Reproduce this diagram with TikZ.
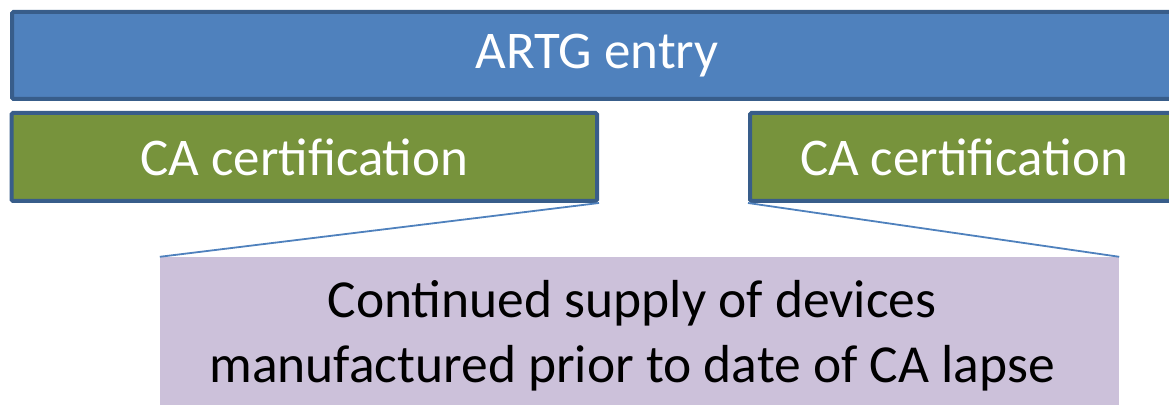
\documentclass[tikz,border=0pt]{standalone}
\usepackage{fontspec}
\setmainfont{Carlito}
\definecolor{barblue}{HTML}{4F81BD}
\definecolor{edgeblue}{HTML}{385D8A}
\definecolor{cagreen}{HTML}{77933C}
\definecolor{lapsepurple}{HTML}{CCC1DA}
\tikzset{
  x=1pt, y=1pt,
  boxstyle/.style={draw=edgeblue, line width=4pt, rounded corners=1.5pt, inner sep=0pt, text=white,
    font=\fontsize{53}{63}\selectfont},
  linkline/.style={draw=barblue, line width=1.8pt},
}
\begin{document}
\begin{tikzpicture}
\useasboundingbox (0,0) rectangle (1169,404);
\node[boxstyle, fill=barblue, minimum width=1170pt, minimum height=87pt] (artg) at (597,348.5) {\raisebox{-3pt}{ARTG entry}};
\node[boxstyle, fill=cagreen, minimum width=585.5pt, minimum height=88pt] (caleft) at (304.25,247) {\raisebox{-3pt}{CA certification}};
\node[boxstyle, fill=cagreen, minimum width=428pt, minimum height=88pt] (caright) at (964,247) {\raisebox{-3pt}{CA certification}};
\node[fill=lapsepurple, minimum width=959pt, minimum height=150pt, inner sep=0pt] (lapse) at (639.5,72) {};
\node[align=center, inner sep=0pt, font=\fontsize{53.5}{65}\selectfont, text=black] (lapsetext) at (632,68)
  {Continued supply of devices\\manufactured prior to date of CA lapse};
\draw[linkline] (caleft.south east) -- (lapse.north west);
\draw[linkline] (caright.south west) -- (lapse.north east);
\end{tikzpicture}
\end{document}
